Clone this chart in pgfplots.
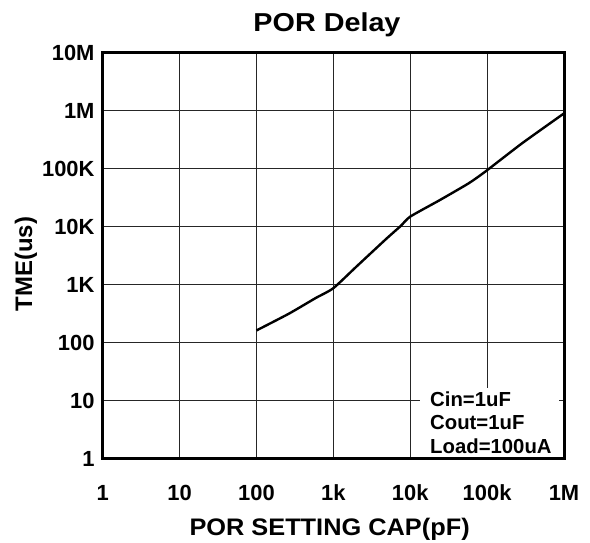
\documentclass[border=0pt]{standalone}
\usepackage{fontspec}
\setmainfont{Liberation Sans}
\newfontfamily\titlef{Liberation Sans}[FakeStretch=1.11]
\newfontfamily\xlabf{Liberation Sans}[FakeStretch=1.06]
\usepackage{pgfplots}
\pgfplotsset{compat=1.18}
\begin{document}
\begin{tikzpicture}[x=1bp,y=1bp]
\useasboundingbox (0,0) rectangle (590,543);
\begin{axis}[
  at={(102.7bp,84bp)}, anchor=south west,
  width=461.3bp, height=406.3bp, scale only axis,
  xmode=log, ymode=log,
  xmin=1, xmax=1e6, ymin=1, ymax=1e7,
  xtick={1,10,100,1000,10000,100000,1000000},
  xticklabels={1,10,100,1k,10k,100k,1M},
  ytick={1,10,100,1000,10000,100000,1000000,10000000},
  yticklabels={1,10,100,1K,10K,100K,1M,10M},
  xminorticks=false, yminorticks=false,
  major tick length=0pt, minor tick length=0pt,
  grid=major,
  major grid style={line width=1bp, black!85},
  axis line style={line width=3bp, black},
  tick label style={font=\bfseries\fontsize{22}{22}\selectfont},
  xticklabel style={anchor=center, inner sep=0pt, yshift=-34bp},
  yticklabel style={anchor=east, inner sep=0pt, xshift=-8bp},
  clip=false,
]
\addplot[black, line width=2.4bp, smooth, tension=0.35] coordinates {
(100,164) (263,318) (585,590) (1000,877) (2000,2070) (5000,6400) (7500,10300)
(10000,15000) (24500,29100) (57800,56400) (95000,89700) (285000,275000) (1000000,900000)
};
\end{axis}
\fill[white] (420,86) rectangle (559,155);
\node[anchor=base west, inner sep=0pt, font=\bfseries\fontsize{20.4}{20.4}\selectfont] at (430,136.4) {Cin=1uF};
\node[anchor=base west, inner sep=0pt, font=\bfseries\fontsize{20.4}{20.4}\selectfont] at (430,113.1) {Cout=1uF};
\node[anchor=base west, inner sep=0pt, font=\bfseries\fontsize{20.4}{20.4}\selectfont] at (430,89.8) {Load=100uA};
\node[anchor=base, inner sep=0pt, font=\titlef\bfseries\fontsize{26}{26}\selectfont] at (327,511) {POR Delay};
\node[inner sep=0pt, font=\bfseries\fontsize{24}{24}\selectfont, rotate=90] at (26,279) {TME(us)};
\node[anchor=base, inner sep=0pt, font=\xlabf\bfseries\fontsize{24}{24}\selectfont] at (329.6,7.4) {POR SETTING CAP(pF)};
\end{tikzpicture}
\end{document}
